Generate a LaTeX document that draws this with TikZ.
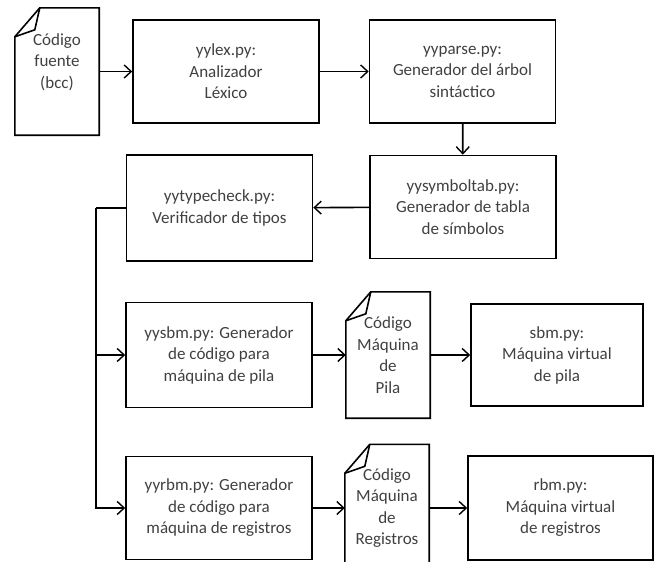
\documentclass[tikz,border=0pt]{standalone}
\usepackage{fontspec}
\setmainfont{Carlito}
\usepackage{tikz}
\usetikzlibrary{arrows.meta, positioning, calc}
\definecolor{textgray}{RGB}{64, 64, 64}

\newcommand{\docoutline}[1]{%
    \draw[line] ([yshift=-29pt]#1.north west) -- ([xshift=25pt]#1.north west) -- (#1.north east) -- (#1.south east) -- (#1.south west) -- cycle;
    \draw[line] ([yshift=-29pt]#1.north west) -- ([xshift=20pt,yshift=-22pt]#1.north west) -- ([xshift=25pt]#1.north west);
}

\begin{document}
\begin{tikzpicture}[
    x=1pt, y=-1pt,
    every node/.style={font=\fontsize{17}{21.5}\selectfont, text=textgray},
    line/.style={line width=1.6pt, black},
    module/.style={rectangle, draw, line width=1.6pt, minimum width=186pt, minimum height=103pt, align=center, inner sep=0pt},
    doc/.style={rectangle, minimum width=84pt, minimum height=127pt, align=center, inner sep=0pt},
    arrow/.style={line, -{Straight Barb[length=7pt, width=13pt, line width=1.4pt]}}
]
    \clip (0,0) rectangle (656,562);

    \node[doc, text depth=21pt] (fuente) at (57, 71.5) {Código\\fuente\\(bcc)};
    \node[module] (lex) at (226, 71.5) {yylex.py:\\Analizador\\Léxico};
    \node[module] (parse) at (462.5, 71.5) {yyparse.py:\\Generador del árbol\\sintáctico};

    \node[module] (symtab) at (463, 207) {yysymboltab.py:\\Generador de tabla\\de símbolos};
    \node[module, minimum height=106pt] (typecheck) at (219.5, 208) {yytypecheck.py:\\Verificador de tipos};

    \node[module, minimum height=105pt] (sbmgen) at (219, 355) {yysbm.py: Generador\\de código para\\máquina de pila};
    \node[doc, minimum height=126pt] (pila) at (388, 355) {Código\\Máquina\\de\\Pila};
    \node[module, minimum width=172pt, minimum height=102pt] (sbm) at (557, 355) {sbm.py:\\Máquina virtual\\de pila};

    \node[module] (rbmgen) at (219, 508) {yyrbm.py: Generador\\de código para\\máquina de registros};
    \node[doc] (registros) at (387, 508) {Código\\Máquina\\de\\Registros};
    \node[module, minimum width=185pt, minimum height=104pt] (rbm) at (560.5, 508) {rbm.py:\\Máquina virtual\\de registros};

    \docoutline{fuente}
    \docoutline{pila}
    \docoutline{registros}

    \coordinate (bus) at (96, 208);

    \draw[arrow] (fuente) -- (lex);
    \draw[arrow] (lex) -- (parse);
    \draw[arrow] (parse) -- (symtab);
    \draw[arrow] (symtab) -- (typecheck);
    \draw[line] (typecheck.west) -- (bus);
    \draw[arrow] (bus) |- (rbmgen.west);
    \draw[arrow] (bus |- sbmgen.west) -- (sbmgen.west);
    \draw[arrow] (sbmgen) -- (pila);
    \draw[arrow] (pila) -- (sbm);
    \draw[arrow] (rbmgen) -- (registros);
    \draw[arrow] (registros) -- (rbm);
\end{tikzpicture}
\end{document}
